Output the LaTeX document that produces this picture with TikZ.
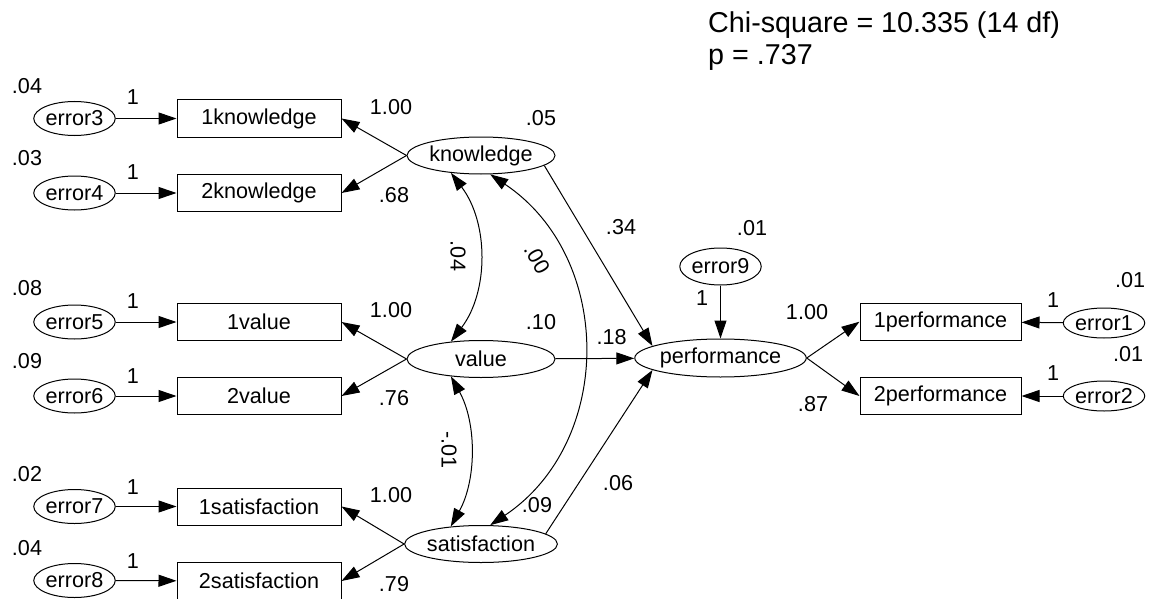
\documentclass[tikz,border=0pt]{standalone}
\usepackage{fontspec}
\setmainfont{Liberation Sans}
\usetikzlibrary{arrows.meta,shapes.geometric,calc}

\begin{document}
\begin{tikzpicture}[x=1pt,y=-1pt,
  every node/.style={font=\fontsize{21.6}{26}\selectfont, inner sep=0pt},
  obs/.style={draw, rectangle, minimum width=164pt, minimum height=37pt, line width=1pt},
  lat/.style={draw, ellipse, minimum width=148pt, minimum height=37pt, line width=1pt},
  err/.style={draw, ellipse, minimum width=75pt, minimum height=34pt, line width=1pt},
  reg/.style={line width=1pt, -{Triangle[length=18pt,width=12pt]}},
  cov/.style={line width=1pt, {Triangle[length=18pt,width=12pt]}-{Triangle[length=18pt,width=12pt]}},
  titletext/.style={anchor=base west, font=\fontsize{28.7}{32}\selectfont},
]
\useasboundingbox (0,0) rectangle (1158,599);

% fit statistics
\node[titletext] (chi) at (708,33) {Chi-square = 10.335 (14 df)};
\node[titletext] (pval) at (708,65) {p = .737};

% indicators of the three predictors
\node[err] (e3) at (74.5,118.5) {error3};
\node[obs] (k1) at (259,118.5) {1knowledge};
\node[err] (e4) at (74.5,193) {error4};
\node[obs] (k2) at (259,193) {2knowledge};
\node[err] (e5) at (74.5,322) {error5};
\node[obs] (v1) at (259,322) {1value};
\node[err] (e6) at (74.5,396) {error6};
\node[obs] (v2) at (259,396) {2value};
\node[err] (e7) at (74.5,506.5) {error7};
\node[obs] (s1) at (259,506.5) {1satisfaction};
\node[err] (e8) at (74.5,580.5) {error8};
\node[obs] (s2) at (259,581) {2satisfaction};

% latent variables
\node[lat] (kn) at (481,155.5) {knowledge};
\node[lat] (va) at (481,359) {value};
\node[lat] (sa) at (481,544) {satisfaction};
\node[lat, minimum width=147pt, minimum height=38pt] (pe) at (720.5,358) {performance};
\node[err, minimum height=37pt] (e9) at (720.5,266.5) {error9};

% indicators of performance
\node[obs, minimum width=161pt] (p1) at (940.5,321.7) {1performance};
\node[obs, minimum width=161pt] (p2) at (940.5,396) {2performance};
\node[err, minimum height=30pt] (e1) at (1104,323) {error1};
\node[err, minimum height=30pt] (e2) at (1104,396) {error2};

% error paths
\foreach \e/\o in {e3/k1,e4/k2,e5/v1,e6/v2,e7/s1,e8/s2,e1/p1,e2/p2,e9/pe}
  \draw[reg] (\e) -- (\o);

% loadings
\foreach \l/\o in {kn/k1,kn/k2,va/v1,va/v2,sa/s1,sa/s2}
  \draw[reg] (\l.west) -- (\o.east);
\draw[reg] (pe.east) -- (p1.west);
\draw[reg] (pe.east) -- (p2.west);

% structural paths
\draw[reg] (kn.-9) -- (pe.170);
\draw[reg] (va) -- (pe);
\draw[reg] (sa.9) -- (pe.190);

% covariances
\draw[cov] (kn.210) .. controls +(37.9,50) and +(37.9,-50) .. (va.150);
\draw[cov] (kn.-64) .. controls +(124,83) and +(124,-83) .. (sa.64);
\draw[cov] (va.210) .. controls +(25.9,46.7) and +(25.9,-46.7) .. (sa.150);

% variances
\node (v04a) at (27,86) {.04};
\node (v03) at (27,158) {.03};
\node (v08) at (27,288) {.08};
\node (v09) at (27,361.5) {.09};
\node (v02) at (27,474) {.02};
\node (v04b) at (27,548) {.04};
\node (v05) at (541,118) {.05};
\node (v10) at (541,322.5) {.10};
\node (v09b) at (537,505.5) {.09};
\node (v01a) at (752,228) {.01};
\node (v01b) at (1130,280.5) {.01};
\node (v01c) at (1128,354) {.01};

% fixed error weights
\node (w3) at (133,97.5) {1};
\node (w4) at (133,172.5) {1};
\node (w5) at (133,301) {1};
\node (w6) at (133,376) {1};
\node (w7) at (133,487) {1};
\node (w8) at (133,561) {1};
\node (w9) at (702,298) {1};
\node (w1) at (1053,300) {1};
\node (w2) at (1053,373.5) {1};

% loading estimates
\node (lk1) at (391,107.5) {1.00};
\node (lk2) at (394,195.5) {.68};
\node (lv1) at (391,310) {1.00};
\node (lv2) at (394,398) {.76};
\node (ls1) at (391,495) {1.00};
\node (ls2) at (394,584) {.79};
\node (lp1) at (807,312.5) {1.00};
\node (lp2) at (813,404) {.87};

% path coefficients
\node (bk) at (621,227.5) {.34};
\node (bv) at (611.7,337.5) {.18};
\node (bs) at (618,483) {.06};

% covariance estimates
\node[rotate=-90] (ckv) at (458,256) {.04};
\node[rotate=-60] (cks) at (537,259) {.00};
\node[rotate=-90] (cvs) at (449,450) {-.01};
\end{tikzpicture}
\end{document}
